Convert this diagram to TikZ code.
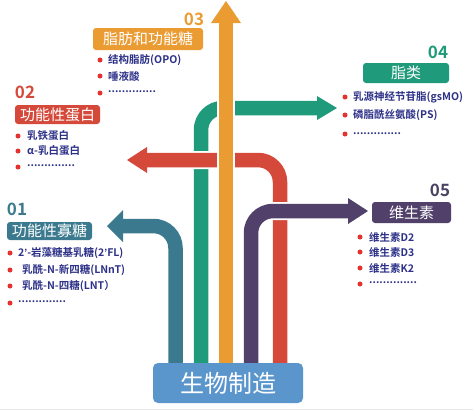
\documentclass[tikz,border=0pt]{standalone}
\usepackage{fontspec}
\newfontfamily\cjk{Noto Sans CJK SC}[BoldFont={Noto Sans CJK SC Bold}]
\newfontfamily\latf{Liberation Sans}
\definecolor{cteal}{HTML}{3B7A8E}
\definecolor{cgreen}{HTML}{1F9A7B}
\definecolor{corange}{HTML}{EA9B32}
\definecolor{cpurple}{HTML}{50406A}
\definecolor{cred}{HTML}{D5493A}
\definecolor{cbox}{HTML}{5A96CC}
\definecolor{cnavy}{HTML}{2D3188}
\definecolor{cdot}{HTML}{E3322F}
\definecolor{cfive}{HTML}{4A4262}
\newcommand{\apo}{{\latf\bfseries ’}}
\begin{document}
\begin{tikzpicture}[x=1pt,y=-1pt,
  shaftw/.style={draw=white,line width=18pt,rounded corners=22pt},
  shaft/.style={line width=14.5pt,rounded corners=22pt},
  titlebox/.style={rectangle,rounded corners=3pt,text=white,inner sep=0pt,font=\cjk\fontsize{15}{15}\selectfont},
  numlbl/.style={font=\cjk\bfseries\fontsize{17}{17}\selectfont,inner sep=0pt},
  item/.style={anchor=west,text=cnavy,font=\cjk\bfseries\fontsize{10.5}{11}\selectfont,inner sep=0pt},
  bul/.style={circle,fill=cdot,inner sep=0pt,minimum size=5pt}
]
\useasboundingbox (0,0) rectangle (473,410);
\fill[white] (0,0) rectangle (473,410);
\fill[black!9] (0,408.5) rectangle (473,410);

% anchor coordinates
\coordinate (tb) at (175.5,363); \coordinate (tc) at (175.5,226); \coordinate (te) at (123,226);
\coordinate (gb) at (201,363); \coordinate (gc) at (201,108); \coordinate (ge) at (317,108);
\coordinate (rb) at (280,363); \coordinate (rc) at (280,160); \coordinate (re) at (147,160);
\coordinate (ob) at (226,363); \coordinate (oe) at (226,22);
\coordinate (pb) at (251,363); \coordinate (pc) at (251,211); \coordinate (pe) at (348,211);

% 01 teal
\draw[shaftw] (tb) -- (tc) -- (te);
\draw[shaft,cteal] (tb) -- (tc) -- (te);
\fill[cteal] (123,210) -- (107,226) -- (123,242) -- cycle;
% 04 green
\draw[shaftw] (gb) -- (gc) -- (ge);
\draw[shaft,cgreen] (gb) -- (gc) -- (ge);
\fill[cgreen] (317,96) -- (337,108) -- (317,120) -- cycle;
% 02 red
\draw[shaftw] (rb) -- (rc) -- (re);
\draw[shaft,cred] (rb) -- (rc) -- (re);
\fill[cred] (147,147) -- (127,160) -- (147,173) -- cycle;
% 03 orange
\draw[shaftw] (ob) -- (oe);
\draw[shaft,corange] (ob) -- (oe);
\fill[corange] (211,23) -- (226,1) -- (241,23) -- cycle;
% 05 purple
\draw[shaftw] (pb) -- (pc) -- (pe);
\draw[shaft,cpurple] (pb) -- (pc) -- (pe);
\fill[cpurple] (348,198) -- (368,211) -- (348,224) -- cycle;

% main box
\node[titlebox,fill=cbox,minimum width=150pt,minimum height=40pt,rounded corners=5pt,font=\cjk\fontsize{24}{24}\selectfont] (main) at (228,383) {生物制造};

% 03
\node[numlbl,text=corange] (n3) at (194,19) {03};
\node[titlebox,fill=corange,minimum width=110pt,minimum height=22pt] (b3) at (148,39) {脂肪和功能糖};
\node[bul] (d31) at (100,60) {}; \node[item] (i31) at (108,60) {结构脂肪(OPO)};
\node[bul] (d32) at (100,76) {}; \node[item] (i32) at (108,76) {唾液酸};
\node[bul] (d33) at (100,93) {}; \node[item] (i33) at (108,92) {..............};

% 02
\node[numlbl,text=cred] (n2) at (25,92) {02};
\node[titlebox,fill=cred,minimum width=85pt,minimum height=19pt] (b2) at (57.5,114.5) {功能性蛋白};
\node[bul] (d21) at (18,136) {}; \node[item] (i21) at (27,136) {乳铁蛋白};
\node[bul] (d22) at (18,151) {}; \node[item] (i22) at (27,151) {α-乳白蛋白};
\node[bul] (d23) at (18,167) {}; \node[item] (i23) at (27,166) {..............};

% 04
\node[numlbl,text=cgreen] (n4) at (438,52) {04};
\node[titlebox,fill=cgreen,minimum width=86pt,minimum height=20pt] (b4) at (406,73) {脂类};
\node[bul] (d41) at (345,97) {}; \node[item] (i41) at (353,97) {乳源神经节苷脂(gsMO)};
\node[bul] (d42) at (345,115) {}; \node[item] (i42) at (353,115) {磷脂酰丝氨酸(PS)};
\node[bul] (d43) at (345,134) {}; \node[item] (i43) at (353,134) {..............};

% 05
\node[numlbl,text=cfive] (n5) at (440,190) {05};
\node[titlebox,fill=cpurple,minimum width=79pt,minimum height=21pt] (b5) at (411.5,212.5) {维生素};
\node[bul] (d51) at (360,237) {}; \node[item] (i51) at (369,237) {维生素D2};
\node[bul] (d52) at (360,252) {}; \node[item] (i52) at (369,252) {维生素D3};
\node[bul] (d53) at (360,268) {}; \node[item] (i53) at (369,268) {维生素K2};
\node[bul] (d54) at (360,284) {}; \node[item] (i54) at (369,283) {..............};

% 01
\node[numlbl,text=cteal] (n1) at (17,209) {01};
\node[titlebox,fill=cteal,minimum width=85pt,minimum height=18pt] (b1) at (49.5,231) {功能性寡糖};
\node[bul] (d11) at (10,253) {}; \node[item] (i11) at (18,253) {2\apo-岩藻糖基乳糖(2\apo FL)};
\node[bul] (d12) at (10,270) {}; \node[item] (i12) at (22,270) {乳酰-N-新四糖(LNnT)};
\node[bul] (d13) at (10,286) {}; \node[item] (i13) at (22,286) {乳酰-N-四糖(LNT）};
\node[bul] (d14) at (10,303) {}; \node[item] (i14) at (18,302) {..............};
\end{tikzpicture}
\end{document}
